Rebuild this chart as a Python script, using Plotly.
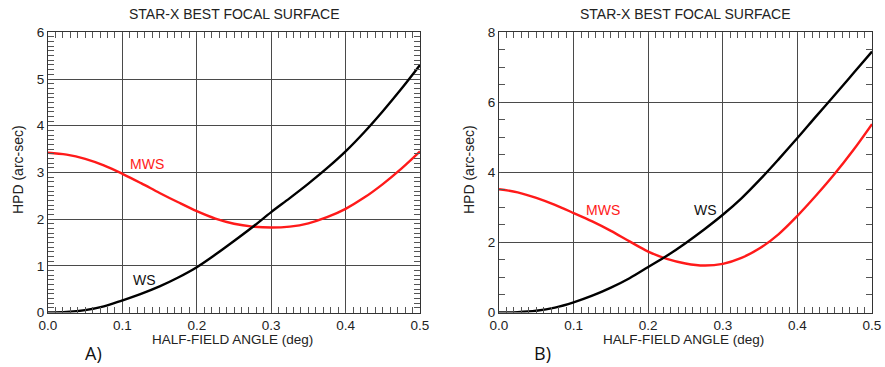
import plotly.graph_objects as go

# ---------------- data ----------------
x_vals = [0.0, 0.025, 0.05, 0.075, 0.1, 0.125, 0.15, 0.175, 0.2, 0.225, 0.25,
          0.275, 0.3, 0.325, 0.35, 0.375, 0.4, 0.425, 0.45, 0.475, 0.5]

# Panel A
ws_a = [0.0, 0.01, 0.05, 0.13, 0.26, 0.40, 0.56, 0.75, 0.97, 1.24, 1.53,
        1.83, 2.15, 2.45, 2.76, 3.09, 3.45, 3.86, 4.31, 4.79, 5.30]
mws_a = [3.42, 3.38, 3.29, 3.15, 2.97, 2.77, 2.56, 2.36, 2.17, 2.01, 1.90,
         1.84, 1.82, 1.84, 1.91, 2.04, 2.22, 2.46, 2.75, 3.08, 3.45]

# Panel B
ws_b = [0.0, 0.01, 0.05, 0.14, 0.29, 0.48, 0.71, 0.98, 1.30, 1.62, 1.98,
        2.37, 2.79, 3.26, 3.80, 4.38, 4.98, 5.60, 6.21, 6.83, 7.45]
mws_b = [3.52, 3.43, 3.27, 3.07, 2.84, 2.60, 2.33, 2.03, 1.74, 1.53, 1.40,
         1.34, 1.39, 1.56, 1.84, 2.24, 2.76, 3.34, 3.96, 4.64, 5.38]

x_ticks = [0.0, 0.1, 0.2, 0.3, 0.4, 0.5]
y_ticks_a = [0, 1, 2, 3, 4, 5, 6]
y_ticks_b = [0, 2, 4, 6, 8]

title_text = "STAR-X BEST FOCAL SURFACE"
x_title = "HALF-FIELD ANGLE (deg)"
y_title = "HPD (arc-sec)"

# ---------------- figure ----------------
W, H = 885, 367
FONT = "Liberation Sans, Arial, Helvetica, sans-serif"
RED = "#ff1a1a"
TXT = "#222222"

fig = go.Figure()
for xa, ya, mws, ws in [("x", "y", mws_a, ws_a), ("x2", "y2", mws_b, ws_b)]:
    fig.add_trace(go.Scatter(x=x_vals, y=mws, mode="lines",
                             line=dict(color=RED, width=2.4, shape="spline", smoothing=1.0),
                             xaxis=xa, yaxis=ya, showlegend=False, hoverinfo="skip"))
    fig.add_trace(go.Scatter(x=x_vals, y=ws, mode="lines",
                             line=dict(color="black", width=2.4, shape="spline", smoothing=1.0),
                             xaxis=xa, yaxis=ya, showlegend=False, hoverinfo="skip"))

def px_x(p):
    return p / W

def px_y(p):
    return 1 - p / H

dom_a = [px_x(48), px_x(420)]
dom_b = [px_x(499), px_x(872)]
dom_y = [px_y(312.5), px_y(32.3)]

GRID = "#4a4a4a"
common_axis = dict(
    showline=True, linecolor="#333333", linewidth=1, mirror="allticks",
    showgrid=True, gridcolor=GRID, gridwidth=1, zeroline=False,
    ticks="inside", ticklen=2, tickcolor="#555555",
    tickfont=dict(family=FONT, size=13.5, color=TXT),
    automargin=False,
)

def minor(d):
    return dict(tickmode="linear", tick0=0, dtick=d, ticks="inside", ticklen=6,
                tickcolor="#555555", tickwidth=1, showgrid=False)

def minor_overlay(over, anchor, side, rng, d):
    return dict(overlaying=over, anchor=anchor, side=side, range=rng,
                tickmode="linear", tick0=0, dtick=d, ticks="inside", ticklen=6,
                tickcolor="#555555", tickwidth=1, showticklabels=False,
                showgrid=False, showline=False, zeroline=False, automargin=False,
                fixedrange=True)

xaxis_common = dict(common_axis, range=[0, 0.5], tickmode="linear", tick0=0, dtick=0.1,
                    tickformat=".1f", minor=minor(0.01))

fig.update_layout(
    width=W, height=H,
    paper_bgcolor="white", plot_bgcolor="white",
    margin=dict(l=0, r=0, t=0, b=0),
    xaxis=dict(xaxis_common, domain=dom_a, anchor="y"),
    yaxis=dict(common_axis, domain=dom_y, anchor="x", range=[0, 6],
               tickmode="linear", tick0=0, dtick=1, minor=minor(0.1)),
    xaxis2=dict(xaxis_common, domain=dom_b, anchor="y2"),
    yaxis2=dict(common_axis, domain=dom_y, anchor="x2", range=[0, 8],
                tickmode="linear", tick0=0, dtick=2, minor=minor(0.5)),
    # overlay axes that only carry the bottom / left minor tick marks
    xaxis3=minor_overlay("x", "y", "bottom", [0, 0.5], 0.01),
    xaxis4=minor_overlay("x2", "y2", "bottom", [0, 0.5], 0.01),
    yaxis3=minor_overlay("y", "x", "left", [0, 6], 0.1),
    yaxis4=minor_overlay("y2", "x2", "left", [0, 8], 0.5),
)

ann = []
def add_text(text, x, y, size, color=TXT, xref="paper", yref="paper", angle=0, family=FONT):
    ann.append(dict(text=text, x=x, y=y, xref=xref, yref=yref, showarrow=False,
                    font=dict(family=family, size=size, color=color), textangle=angle,
                    xanchor="center", yanchor="middle"))

# titles
add_text(title_text, px_x(234), px_y(14), 14)
add_text(title_text, px_x(685.5), px_y(14), 14)
# x titles
add_text(x_title, px_x(232), px_y(339), 13.5)
add_text(x_title, px_x(683), px_y(339), 13.5)
# y titles
add_text(y_title, px_x(18), px_y(170), 14, angle=-90)
add_text(y_title, px_x(469), px_y(170), 14, angle=-90)
# panel labels
add_text("A)", px_x(93), px_y(353), 18, color="#111111", family="Open Sans, sans-serif")
add_text("B)", px_x(542), px_y(353), 18, color="#111111", family="Open Sans, sans-serif")
# curve labels
add_text("MWS", 0.133, 3.19, 14, color=RED, xref="x", yref="y")
add_text("WS", 0.130, 0.70, 14, color="#111111", xref="x", yref="y")
add_text("MWS", 0.139, 2.92, 14, color=RED, xref="x2", yref="y2")
add_text("WS", 0.277, 2.92, 14, color="#111111", xref="x2", yref="y2")

fig.update_layout(annotations=ann)

fig.write_html("out.html", config={"displayModeBar": False},
               post_script="document.body.style.margin='0';document.body.style.padding='0';")
